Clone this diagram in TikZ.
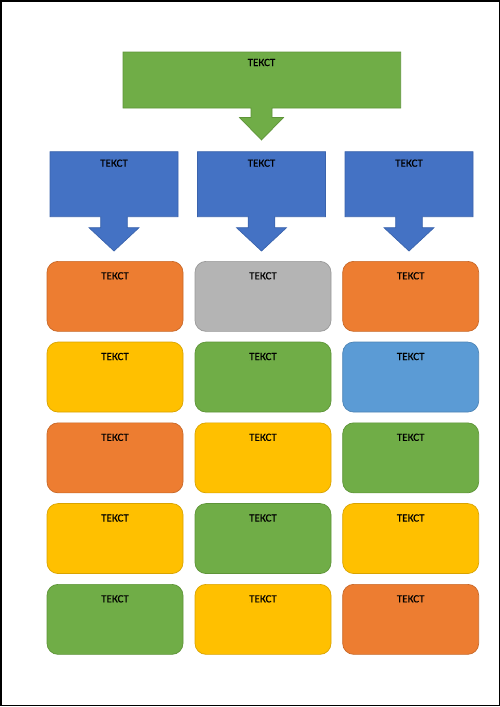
\documentclass[tikz,border=0pt]{standalone}
\usepackage{fontspec}
\setmainfont{Carlito}
\newfontfamily\tfont[FakeBold=0.6]{Carlito}
\definecolor{cgreen}{HTML}{70AD47}
\definecolor{cgreenD}{HTML}{5E9438}
\definecolor{cblue}{HTML}{4472C4}
\definecolor{cblueD}{HTML}{3A63AC}
\definecolor{corange}{HTML}{ED7D31}
\definecolor{corangeD}{HTML}{C86828}
\definecolor{cgray}{HTML}{B4B4B4}
\definecolor{cgrayD}{HTML}{999999}
\definecolor{cyellow}{HTML}{FFC000}
\definecolor{cyellowD}{HTML}{D9A300}
\definecolor{clblue}{HTML}{5B9BD5}
\definecolor{clblueD}{HTML}{4D84B5}
\tikzset{
  ttext/.style={font=\tfont\fontsize{11}{13}\selectfont, text=black, inner sep=0pt, anchor=base},
  rbox/.style={draw, line width=0.7pt, rounded corners=11pt, minimum width=136pt,
    inner sep=0pt, anchor=north, text height=18pt, text depth=52pt,
    font=\tfont\fontsize{11}{13}\selectfont, text=black},
  ob/.style={rbox, fill=corange, draw=corangeD},
  gb/.style={rbox, fill=cgreen, draw=cgreenD},
  yb/.style={rbox, fill=cyellow, draw=cyellowD},
  sb/.style={rbox, fill=cgray, draw=cgrayD},
  lb/.style={rbox, fill=clblue, draw=clblueD},
  callout/.style={line width=0.7pt, line join=miter}
}
\begin{document}
\begin{tikzpicture}[x=1pt,y=-1pt]
\useasboundingbox (0,0) rectangle (500,707);
\draw[line width=1.5pt] (0.75,0.75) rectangle (499.25,705.25);

% top callout
\draw[callout, fill=cgreen, draw=cgreenD]
  (123,52) -- (400.7,52) -- (400.7,108) -- (272,108) -- (272,117.5) -- (283.5,117.5)
  -- (261.5,140) -- (239.5,117.5) -- (251,117.5) -- (251,108) -- (123,108) -- cycle;
\node[ttext] (top) at (261.5,66) {ТЕКСТ};

% blue callouts
\foreach \c/\n in {114/h1, 261.5/h2, 409/h3}{
  \draw[callout, fill=cblue, draw=cblueD]
    ({\c-64},151.7) -- ({\c+64},151.7) -- ({\c+64},216.7) -- ({\c+13.3},216.7)
    -- ({\c+13.3},227.7) -- ({\c+25},227.7) -- (\c,251) -- ({\c-25},227.7)
    -- ({\c-13.3},227.7) -- ({\c-13.3},216.7) -- ({\c-64},216.7) -- cycle;
  \node[ttext] (\n) at (\c,166.7) {ТЕКСТ};
}

% rounded boxes
\node[ob] (b11) at (115,261) {ТЕКСТ};
\node[sb] (b12) at (263,261) {ТЕКСТ};
\node[ob] (b13) at (410.7,261) {ТЕКСТ};

\node[yb] (b21) at (115,341.7) {ТЕКСТ};
\node[gb] (b22) at (263,341.7) {ТЕКСТ};
\node[lb] (b23) at (410.7,341.7) {ТЕКСТ};

\node[ob] (b31) at (115,422.5) {ТЕКСТ};
\node[yb] (b32) at (263,422.5) {ТЕКСТ};
\node[gb] (b33) at (410.7,422.5) {ТЕКСТ};

\node[yb] (b41) at (115,503.2) {ТЕКСТ};
\node[gb] (b42) at (263,503.2) {ТЕКСТ};
\node[yb] (b43) at (410.7,503.2) {ТЕКСТ};

\node[gb] (b51) at (115,584) {ТЕКСТ};
\node[yb] (b52) at (263,584) {ТЕКСТ};
\node[ob] (b53) at (410.7,584) {ТЕКСТ};
\end{tikzpicture}
\end{document}
